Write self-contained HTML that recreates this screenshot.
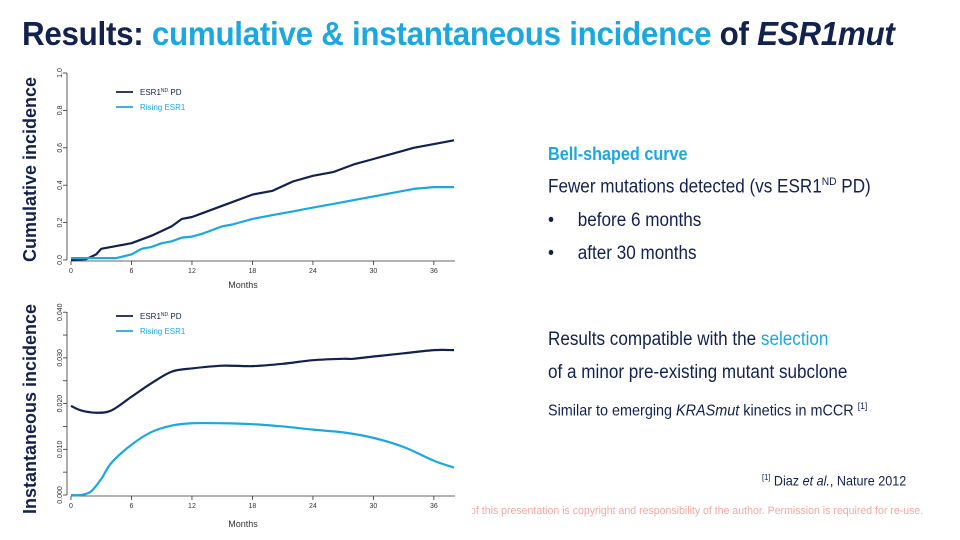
<!DOCTYPE html>
<html><head><meta charset="utf-8"><style>
body{margin:0;width:960px;height:540px;background:#fff;position:relative;overflow:hidden;font-family:"Liberation Sans",Arial,sans-serif;color:#13214f}
.a{position:absolute;white-space:nowrap}
.c{color:#1ba8e0}
.t{font-size:19px;transform:scaleX(.9);transform-origin:left}
sup{font-size:60%}
</style></head><body>
<div class="a" style="left:22px;top:15px;font-size:33px;font-weight:bold;letter-spacing:-0.3px;transform:scaleX(.95);transform-origin:left">Results: <span class="c">cumulative &amp; instantaneous incidence</span> of <i>ESR1mut</i></div>
<div class="a" style="left:548px;top:144px;font-size:18px;font-weight:bold;color:#1ba8e0;transform:scaleX(.9);transform-origin:left">Bell-shaped curve</div>
<div class="a t" style="left:548px;top:176px">Fewer mutations detected (vs ESR1<sup>ND</sup> PD)</div>
<div class="a t" style="left:548px;top:210px">•&nbsp;&nbsp;&nbsp;&nbsp;&nbsp;before 6 months</div>
<div class="a t" style="left:548px;top:243px">•&nbsp;&nbsp;&nbsp;&nbsp;&nbsp;after 30 months</div>
<div class="a t" style="left:548px;top:329px">Results compatible with the <span class="c">selection</span></div>
<div class="a t" style="left:548px;top:362px">of a minor pre-existing mutant subclone</div>
<div class="a" style="left:548px;top:401px;font-size:16px;transform:scaleX(.9);transform-origin:left">Similar to emerging <i>KRASmut</i> kinetics in mCCR <sup>[1]</sup></div>
<div class="a" style="left:762px;top:472px;font-size:14px;transform:scaleX(.9);transform-origin:left"><sup>[1]</sup> Diaz <i>et al.</i>, Nature 2012</div>
<div class="a" style="left:472px;top:505px;font-size:11px;color:#f2a9a0;width:451px;height:14px;overflow:hidden"><span style="position:absolute;right:0;top:0;transform:scaleX(.96);transform-origin:right">The content of this presentation is copyright and responsibility of the author. Permission is required for re-use.</span></div>
<div class="a" style="left:20px;top:262px;font-size:18px;font-weight:bold;transform:rotate(-90deg);transform-origin:0 0">Cumulative incidence</div>
<div class="a" style="left:20px;top:514px;font-size:18px;font-weight:bold;transform:rotate(-90deg);transform-origin:0 0">Instantaneous incidence</div>
<svg id="s" class="a" style="left:0;top:0" width="960" height="540" font-family="Liberation Sans,Arial,sans-serif"></svg>
<script>
var s=document.getElementById('s'),h='';
function X(m){return 71+m*10.08}
function chart(y0,ppu,ticks,labels,top,axisY,xlab,legY){
 h+='<line x1="67" y1="'+top+'" x2="67" y2="'+y0+'" stroke="#333" stroke-width="0.8"/>';
 ticks.forEach(function(v,i){var y=y0-v*ppu;h+='<line x1="63" x2="67" y1="'+y+'" y2="'+y+'" stroke="#333" stroke-width="0.8"/><text font-size="7" fill="#333" transform="translate(62,'+y+') rotate(-90)" text-anchor="middle">'+labels[i]+'</text>';});
 h+='<line x1="71" x2="455" y1="'+axisY+'" y2="'+axisY+'" stroke="#333" stroke-width="0.8"/>';
 for(var m=0;m<=36;m+=6){h+='<line x1="'+X(m)+'" x2="'+X(m)+'" y1="'+axisY+'" y2="'+(axisY+4)+'" stroke="#333" stroke-width="0.8"/><text x="'+X(m)+'" y="'+(axisY+12)+'" font-size="7" fill="#333" text-anchor="middle">'+m+'</text>';}
 h+='<text x="243" y="'+xlab+'" font-size="9" fill="#333" text-anchor="middle">Months</text>';
 h+='<line x1="116" x2="133" y1="'+legY+'" y2="'+legY+'" stroke="#13214f" stroke-width="1.8"/><text x="140" y="'+(legY+3)+'" font-size="8" fill="#13214f">ESR1<tspan font-size="5" dy="-3">ND</tspan><tspan dy="3"> PD</tspan></text>';
 h+='<line x1="116" x2="133" y1="'+(legY+15)+'" y2="'+(legY+15)+'" stroke="#1ba8e0" stroke-width="1.8"/><text x="140" y="'+(legY+18)+'" font-size="8" fill="#1ba8e0">Rising ESR1</text>';
}
function path(pts,y0,ppu,col,step){var d='';pts.forEach(function(p,i){d+=(i?'L':'M')+X(p[0]).toFixed(1)+' '+(y0-p[1]*ppu).toFixed(1)});h+='<path d="'+d+'" fill="none" stroke="'+col+'" stroke-width="2.2" stroke-linejoin="round"/>';}
function smooth(pts,y0,ppu,col){var P=pts.map(function(p){return[X(p[0]),y0-p[1]*ppu]});var d='M'+P[0][0]+' '+P[0][1];for(var i=0;i<P.length-1;i++){var p0=P[i-1]||P[i],p1=P[i],p2=P[i+1],p3=P[i+2]||p2;d+='C'+(p1[0]+(p2[0]-p0[0])/6)+' '+(p1[1]+(p2[1]-p0[1])/6)+' '+(p2[0]-(p3[0]-p1[0])/6)+' '+(p2[1]-(p3[1]-p1[1])/6)+' '+p2[0]+' '+p2[1];}h+='<path d="'+d+'" fill="none" stroke="'+col+'" stroke-width="2.2"/>';}
chart(260,187,[0,.2,.4,.6,.8,1],['0.0','0.2','0.4','0.6','0.8','1.0'],73,261,288,92);
path([[0,0],[1.5,.005],[2.5,.03],[3,.06],[4,.07],[6,.09],[8,.13],[10,.18],[11,.22],[12,.23],[13,.25],[15,.29],[18,.35],[20,.37],[22,.42],[24,.45],[26,.47],[28,.51],[30,.54],[32,.57],[34,.6],[36,.62],[38,.64]],260,187,'#13214f');
path([[0,.01],[4.5,.01],[6,.03],[7,.06],[8,.07],[9,.09],[10,.1],[11,.12],[12,.125],[13,.14],[14,.16],[15,.18],[16,.19],[18,.22],[20,.24],[22,.26],[24,.28],[26,.3],[28,.32],[30,.34],[32,.36],[34,.38],[36,.39],[38,.39]],260,187,'#1ba8e0');
chart(495,4570,[0,.005,.01,.015,.02,.025,.03,.035,.04],['0.000','','0.010','','0.020','','0.030','','0.040'],312,496,527,316);
smooth([[0,.0195],[1,.0185],[2.5,.018],[4,.0185],[6,.0215],[8,.0245],[10,.027],[12,.0277],[15,.0283],[18,.0282],[21,.0287],[24,.0295],[27,.0298],[28,.0298],[30,.0303],[33,.031],[36,.0317],[38,.0317]],495,4570,'#13214f');
smooth([[0,0],[1,0],[2,.0008],[3,.0035],[4,.007],[6,.011],[8,.0138],[10,.0152],[12,.0157],[15,.0157],[18,.0155],[21,.015],[24,.0143],[27,.0137],[30,.0125],[33,.0105],[36,.0075],[38,.006]],495,4570,'#1ba8e0');
s.innerHTML=h;
</script>
</body></html>
